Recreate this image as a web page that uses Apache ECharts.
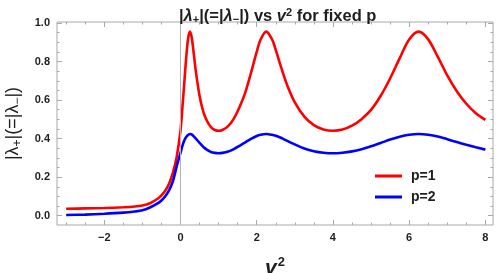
<!DOCTYPE html>
<html><head><meta charset="utf-8">
<script src="https://cdn.jsdelivr.net/npm/echarts@6/dist/echarts.min.js"></script>
<style>html,body{margin:0;padding:0;background:#fff}#c{width:501px;height:273px}</style>
</head><body><div id="c"></div>
<script>
// v^2 sample positions
const vSquared = [-3, -2.5, -2, -1.5, -1.2, -1, -0.8, -0.6, -0.5, -0.4, -0.3, -0.2, -0.1, 0,
  0.05, 0.1, 0.15, 0.2, 0.25, 0.3, 0.35, 0.4, 0.5, 0.6, 0.7, 0.8, 0.9, 1.0, 1.1, 1.25, 1.4, 1.55, 1.7, 1.85,
  2.0, 2.1, 2.25, 2.4, 2.5, 2.65, 2.8, 3.0, 3.25, 3.5, 3.75, 4.0, 4.25, 4.5, 4.75, 5.0, 5.25, 5.5, 5.75,
  6.0, 6.25, 6.5, 6.75, 7.0, 7.25, 7.5, 7.75, 8.0];
// |lambda| for p=1 (red)
const p1Values = [0.036, 0.038, 0.040, 0.044, 0.048, 0.053, 0.065, 0.088, 0.106, 0.130, 0.166, 0.222, 0.305, 0.44,
  0.56, 0.69, 0.82, 0.92, 0.955, 0.918, 0.838, 0.754, 0.622, 0.539, 0.490, 0.460, 0.445, 0.441, 0.445, 0.465, 0.504, 0.564, 0.639, 0.741,
  0.850, 0.913, 0.955, 0.916, 0.860, 0.764, 0.677, 0.588, 0.514, 0.470, 0.448, 0.441, 0.447, 0.467, 0.501, 0.549, 0.621, 0.712, 0.816,
  0.914, 0.955, 0.915, 0.825, 0.728, 0.646, 0.581, 0.532, 0.497];
// |lambda| for p=2 (blue)
const p2Values = [0.004, 0.006, 0.010, 0.016, 0.022, 0.028, 0.043, 0.064, 0.079, 0.101, 0.132, 0.178, 0.256, 0.326,
  0.362, 0.390, 0.408, 0.419, 0.424, 0.421, 0.412, 0.401, 0.378, 0.357, 0.342, 0.331, 0.326, 0.324, 0.326, 0.333, 0.346, 0.363, 0.381, 0.399,
  0.414, 0.420, 0.424, 0.420, 0.415, 0.403, 0.388, 0.370, 0.349, 0.335, 0.327, 0.324, 0.327, 0.334, 0.345, 0.360, 0.377, 0.395, 0.410,
  0.420, 0.424, 0.420, 0.411, 0.397, 0.382, 0.368, 0.355, 0.343];
const seriesNames = ['p=1', 'p=2'];
const xTickLabels = [-2, 0, 2, 4, 6, 8];
const xMinorTicks = [-3, -2.5, -1.5, -1, -0.5, 0.5, 1, 1.5, 2.5, 3, 3.5, 4.5, 5, 5.5, 6.5, 7, 7.5];
const yTickLabels = [0, 0.2, 0.4, 0.6, 0.8, 1.0];
const yMinorTicks = [0.05, 0.1, 0.15, 0.25, 0.3, 0.35, 0.45, 0.5, 0.55, 0.65, 0.7, 0.75, 0.85, 0.9, 0.95];

const X_MIN = -3.24, X_MAX = 8.2, Y_MIN = -0.048, Y_MAX = 1.005;
const FRAME = '#a8a8a8';
const TXT = '#1e1e1e';
const FONT = '"Liberation Sans", Arial, sans-serif';

function pairs(xs, ys) { return xs.map((x, i) => [x, ys[i]]); }
function fmtX(v) { return String(v).replace('-', '\u2212'); }

function xAx(gi, pos, ticks, len, labels) {
  return {
    type: 'value', gridIndex: gi, position: pos, min: X_MIN, max: X_MAX,
    axisLine: { show: false, onZero: false }, splitLine: { show: false },
    axisTick: { show: true, inside: true, length: len, customValues: ticks, lineStyle: { color: FRAME, width: 1 } },
    axisLabel: labels ? { show: true, customValues: ticks, formatter: fmtX, color: TXT, fontWeight: 'bold', fontSize: 11, fontFamily: FONT, margin: 7 } : { show: false }
  };
}
function yAx(gi, pos, ticks, len, labels) {
  return {
    type: 'value', gridIndex: gi, position: pos, min: Y_MIN, max: Y_MAX,
    axisLine: { show: false, onZero: false }, splitLine: { show: false },
    axisTick: { show: true, inside: true, length: len, customValues: ticks, lineStyle: { color: FRAME, width: 1 } },
    axisLabel: labels ? { show: true, customValues: ticks, formatter: v => v.toFixed(1), color: TXT, fontWeight: 'bold', fontSize: 11, fontFamily: FONT, margin: 7 } : { show: false }
  };
}

const gridBox = { left: 57, right: 8, top: 22, bottom: 48, containLabel: false, outerBoundsMode: 'none' };
const chart = echarts.init(document.getElementById('c'), null, { renderer: 'canvas' });

const xMain = xAx(0, 'bottom', xTickLabels, 5, true);
xMain.name = '{v|v}{s|2}';
xMain.nameLocation = 'middle';
xMain.nameGap = 31;
xMain.nameTextStyle = { color: TXT, fontFamily: FONT, rich: {
  v: { fontSize: 21, fontWeight: 'bold', fontStyle: 'italic', fontFamily: FONT, color: TXT },
  s: { fontSize: 13, fontWeight: 'bold', fontFamily: FONT, color: TXT, padding: [0, 0, 12, 1] } } };

const yMain = yAx(0, 'left', yTickLabels, 5, true);
yMain.name = '|\u03bb{sb|+}|(=|\u03bb{sb|\u2212}|)';
yMain.nameLocation = 'middle';
yMain.nameGap = 30;
yMain.nameRotate = 90;
yMain.nameTextStyle = { color: TXT, fontFamily: FONT, fontSize: 18, rich: {
  sb: { fontSize: 12, fontFamily: FONT, color: TXT, padding: [9, 0, 0, 0] } } };

const option = {
  animation: false,
  backgroundColor: '#fff',
  title: {
    text: '|{l|\u03bb}{sb|+}|(=|{l|\u03bb}{sb|\u2212}|) vs {l|v}{sp|2} for fixed p',
    left: 174, top: 2,
    textStyle: { fontSize: 16.5, fontWeight: 'bold', fontFamily: FONT, color: TXT, rich: {
      l: { fontSize: 16.5, fontWeight: 'bold', fontStyle: 'italic', fontFamily: FONT, color: TXT },
      sb: { fontSize: 11, fontWeight: 'bold', fontFamily: FONT, color: TXT, padding: [7, 0, 0, 0] },
      sp: { fontSize: 11, fontWeight: 'bold', fontFamily: FONT, color: TXT, padding: [0, 0, 7, 0] } } }
  },
  legend: {
    data: seriesNames.map(n => ({ name: n, icon: 'rect' })),
    orient: 'vertical', left: 370, top: 164, itemWidth: 27, itemHeight: 3, itemGap: 7,
    textStyle: { fontSize: 14, fontWeight: 'bold', fontFamily: FONT, color: TXT, padding: [0, 0, 0, 4] }
  },
  grid: [
    Object.assign({ show: true, borderColor: FRAME, borderWidth: 1, backgroundColor: 'transparent' }, gridBox),
    Object.assign({ show: false }, gridBox)
  ],
  xAxis: [xMain, xAx(0, 'top', xTickLabels, 5, false), xAx(1, 'bottom', xMinorTicks, 2.5, false), xAx(1, 'top', xMinorTicks, 2.5, false)],
  yAxis: [yMain, yAx(0, 'right', yTickLabels, 5, false), yAx(1, 'left', yMinorTicks, 2.5, false), yAx(1, 'right', yMinorTicks, 2.5, false)],
  series: [
    { name: seriesNames[0], type: 'line', xAxisIndex: 0, yAxisIndex: 0, data: pairs(vSquared, p1Values),
      smooth: 0.3, symbol: 'none', lineStyle: { color: '#ff0000', width: 2.6 }, itemStyle: { color: '#ff0000' }, z: 3,
      markLine: { silent: true, symbol: 'none', label: { show: false }, lineStyle: { color: '#b4b4b4', width: 1, type: 'solid' },
        data: [{ xAxis: 0 }] } },
    { name: seriesNames[1], type: 'line', xAxisIndex: 0, yAxisIndex: 0, data: pairs(vSquared, p2Values),
      smooth: 0.3, symbol: 'none', lineStyle: { color: '#0000ff', width: 2.6 }, itemStyle: { color: '#0000ff' }, z: 4 }
  ]
};
chart.setOption(option);
</script>
</body></html>
